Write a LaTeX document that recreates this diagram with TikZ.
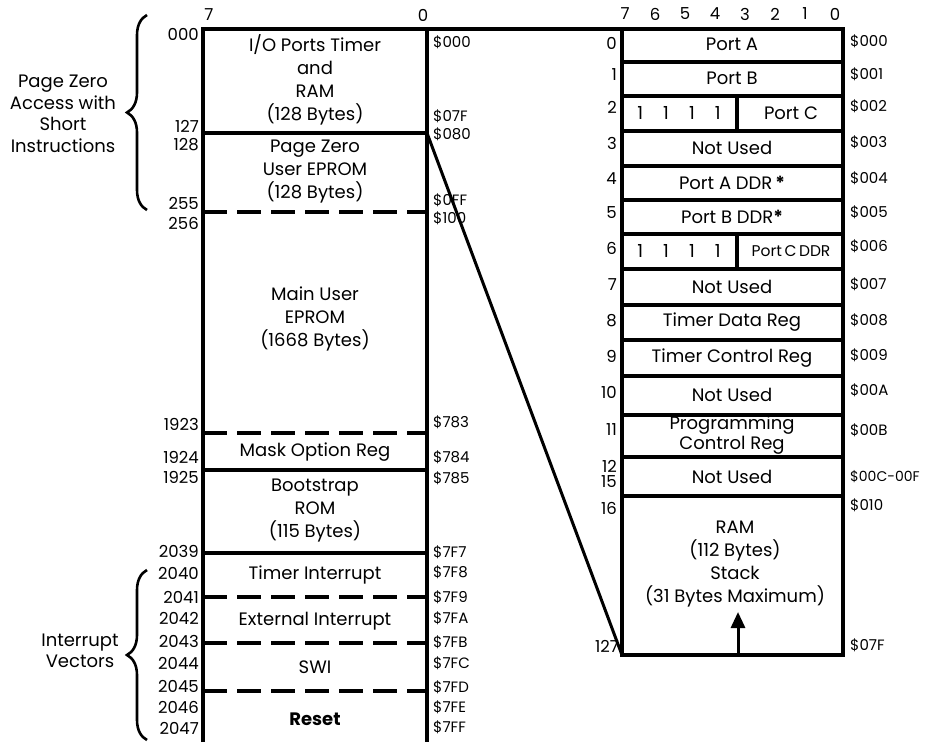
\documentclass[tikz,border=0pt]{standalone}
\usepackage{fontspec}
\setmainfont{Poppins}
\usetikzlibrary{decorations.pathreplacing,arrows.meta}
\begin{document}
\begin{tikzpicture}[x=1pt,y=-1pt,
  every node/.style={font=\fontsize{18}{23}\selectfont, inner sep=0pt},
  txt/.style={align=center},
  sidetxt/.style={align=center, font=\fontsize{18}{21.5}\selectfont},
  wall/.style={line width=3.6pt},
  rowsep/.style={line width=4.5pt},
  sepline/.style={line width=3.2pt},
  dashsep/.style={line width=3.6pt, dash pattern=on 24pt off 10pt},
  lnum/.style={anchor=east, font=\fontsize{16.5}{20}\selectfont},
  addr/.style={anchor=west, font=\fontsize{15}{18}\selectfont},
  bit/.style={anchor=center, font=\fontsize{16.5}{20}\selectfont},
  brc/.style={decorate, decoration={brace, amplitude=20pt}, line width=2.6pt},
  link/.style={line width=3pt},
  stackarrow/.style={line width=3pt, -{Triangle[length=16pt,width=14pt]}}
]
\useasboundingbox (0,0) rectangle (931,742);
\fill[white] (0,0) rectangle (931,742);

% ---------- left column ----------
\coordinate (LTL) at (203,29);
\coordinate (LTR) at (427,29);
\coordinate (LBL) at (203,742);
\coordinate (LBR) at (427,742);
\coordinate (LS1L) at (203,133); \coordinate (LS1R) at (427,133);
\coordinate (LS2L) at (203,212); \coordinate (LS2R) at (427,212);
\coordinate (LS3L) at (203,433); \coordinate (LS3R) at (427,433);
\coordinate (LS4L) at (203,470); \coordinate (LS4R) at (427,470);
\coordinate (LS5L) at (203,553); \coordinate (LS5R) at (427,553);
\coordinate (LS6L) at (203,597); \coordinate (LS6R) at (427,597);
\coordinate (LS7L) at (203,643); \coordinate (LS7R) at (427,643);
\coordinate (LS8L) at (203,691); \coordinate (LS8R) at (427,691);

% ---------- right frame ----------
\coordinate (RTL) at (622,29);
\coordinate (RBR) at (843,655);
\coordinate (RBL) at (622,655);

\draw[wall] (LBL) -- (LTL) -- (RTL);
\draw[wall] (LTR) -- (LBR);
\draw[sepline] (LS1L) -- (LS1R);
\draw[dashsep] (LS2L) -- (LS2R);
\draw[dashsep] (LS3L) -- (LS3R);
\draw[sepline] (LS4L) -- (LS4R);
\draw[sepline] (LS5L) -- (LS5R);
\draw[dashsep] (LS6L) -- (LS6R);
\draw[dashsep] (LS7L) -- (LS7R);
\draw[dashsep] (LS8L) -- (LS8R);

\draw[wall] (RTL) rectangle (RBR);
\foreach \yy in {62,96,131,166,200,234,269,305,340,376,415,457,496}
  \draw[rowsep] (622,\yy) -- (843,\yy);
\draw[rowsep] (737,96) -- (737,131);
\draw[rowsep] (737,234) -- (737,269);

% expansion line
\draw[link] (LS1R) -- (RBL);

% bit numbers
\node[bit] (lb7) at (209,15) {7};
\node[bit] (lb0) at (423,15) {0};
\foreach \b [count=\i from 0] in {7,6,5,4,3,2,1,0}
  \node[bit] (rb\b) at (625+30*\i,14) {\b};

% left column texts
\node[txt] (io) at (315,80) {I/O Ports Timer\\and\\RAM\\(128 Bytes)};
\node[txt] (pz) at (315,172) {Page Zero\\User EPROM\\(128 Bytes)};
\node[txt] (mainrom) at (315,319) {Main User\\EPROM\\(1668 Bytes)};
\node[txt] (mask) at (315,452) {Mask Option Reg};
\node[txt] (boot) at (315,511) {Bootstrap\\ROM\\(115 Bytes)};
\node[txt] (tint) at (315,575) {Timer Interrupt};
\node[txt] (eint) at (315,621) {External Interrupt};
\node[txt] (swi) at (315,667) {SWI};
\node[txt] (reset) at (315,719) {\bfseries Reset};

% left decimal addresses
\node[lnum] (d000) at (199,34) {000};
\node[lnum] (d127) at (199,126) {127};
\node[lnum] (d128) at (199,145) {128};
\node[lnum] (d255) at (199,203) {255};
\node[lnum] (d256) at (199,223) {256};
\node[lnum] (d1923) at (199,424) {1923};
\node[lnum] (d1924) at (199,457) {1924};
\node[lnum] (d1925) at (199,477) {1925};
\node[lnum] (d2039) at (199,551) {2039};
\node[lnum] (d2040) at (199,573) {2040};
\node[lnum] (d2041) at (199,597) {2041};
\node[lnum] (d2042) at (199,618) {2042};
\node[lnum] (d2043) at (199,641) {2043};
\node[lnum] (d2044) at (199,663) {2044};
\node[lnum] (d2045) at (199,686) {2045};
\node[lnum] (d2046) at (199,707) {2046};
\node[lnum] (d2047) at (199,728) {2047};

% left hex addresses
\node[addr] (h000) at (433,42) {\$000};
\node[addr] (h07F) at (433,116) {\$07F};
\node[addr] (h080) at (433,134) {\$080};
\node[addr] (h0FF) at (433,200) {\$0FF};
\node[addr] (h100) at (433,218) {\$100};
\node[addr] (h783) at (433,422) {\$783};
\node[addr] (h784) at (433,457) {\$784};
\node[addr] (h785) at (433,478) {\$785};
\node[addr] (h7F7) at (433,552) {\$7F7};
\node[addr] (h7F8) at (433,572) {\$7F8};
\node[addr] (h7F9) at (433,597) {\$7F9};
\node[addr] (h7FA) at (433,618) {\$7FA};
\node[addr] (h7FB) at (433,642) {\$7FB};
\node[addr] (h7FC) at (433,663) {\$7FC};
\node[addr] (h7FD) at (433,687) {\$7FD};
\node[addr] (h7FE) at (433,707) {\$7FE};
\node[addr] (h7FF) at (433,727) {\$7FF};

% braces and side labels
\coordinate (B1a) at (147,210); \coordinate (B1b) at (147,15);
\coordinate (B2a) at (147,740); \coordinate (B2b) at (147,570);
\draw[brc] (B1a) -- (B1b);
\draw[brc] (B2a) -- (B2b);
\node[sidetxt] (pzlabel) at (63,114) {Page Zero\\Access with\\Short\\Instructions};
\node[sidetxt] (ivlabel) at (80,651) {Interrupt\\Vectors};

% right frame texts
\node[txt] (pa) at (732,44) {Port A};
\node[txt] (pb) at (732,78) {Port B};
\node[txt] (ones2) at (679,113) {1\hspace{20pt}1\hspace{20pt}1\hspace{20pt}1};
\node[txt] (pc) at (791,113) {Port C};
\node[txt] (nu3) at (732,148) {Not Used};
\node[txt] (padr) at (732,183) {Port A DDR\,{\bfseries *}};
\node[txt] (pbdr) at (732,217) {Port B DDR{\bfseries *}};
\node[txt] (ones6) at (679,251) {1\hspace{20pt}1\hspace{20pt}1\hspace{20pt}1};
\node[txt] (pcdr) at (791,251) {\fontsize{15.5}{18}\selectfont Port\,C\,DDR};
\node[txt] (nu7) at (732,287) {Not Used};
\node[txt] (tdr) at (732,322) {Timer Data Reg};
\node[txt] (tcr) at (732,358) {Timer Control Reg};
\node[txt] (nu10) at (732,395) {Not Used};
\node[txt, font=\fontsize{18}{17}\selectfont] (pcr) at (732,435) {Programming\\Control Reg};
\node[txt] (nu12) at (732,477) {Not Used};
\node[txt] (ram) at (735,564) {RAM\\(112 Bytes)\\Stack\\(31 Bytes Maximum)};

% stack arrow
\coordinate (SA0) at (738,653);
\coordinate (SA1) at (738,612);
\draw[stackarrow] (SA0) -- (SA1);

% row numbers
\node[lnum] (r0) at (617,43) {0};
\node[lnum] (r1) at (617,75) {1};
\node[lnum] (r2) at (617,107) {2};
\node[lnum] (r3) at (617,143) {3};
\node[lnum] (r4) at (617,179) {4};
\node[lnum] (r5) at (617,213) {5};
\node[lnum] (r6) at (617,248) {6};
\node[lnum] (r7) at (617,285) {7};
\node[lnum] (r8) at (617,321) {8};
\node[lnum] (r9) at (617,356) {9};
\node[lnum] (r10) at (617,392) {10};
\node[lnum] (r11) at (617,430) {11};
\node[lnum] (r12) at (617,466) {12};
\node[lnum] (r15) at (617,482) {15};
\node[lnum] (r16) at (617,508) {16};
\node[lnum] (r127) at (619,646) {127};

% right hex addresses
\node[addr] (a000) at (850,41) {\$000};
\node[addr] (a001) at (850,74) {\$001};
\node[addr] (a002) at (850,106) {\$002};
\node[addr] (a003) at (850,142) {\$003};
\node[addr] (a004) at (850,178) {\$004};
\node[addr] (a005) at (850,212) {\$005};
\node[addr] (a006) at (850,246) {\$006};
\node[addr] (a007) at (850,284) {\$007};
\node[addr] (a008) at (850,320) {\$008};
\node[addr] (a009) at (850,355) {\$009};
\node[addr] (a00A) at (850,390) {\$00A};
\node[addr] (a00B) at (850,430) {\$00B};
\node[addr] (a00C) at (850,477) {\fontsize{14}{17}\selectfont\$00C-00F};
\node[addr] (a010) at (850,505) {\$010};
\node[addr] (a07F) at (850,645) {\$07F};
\end{tikzpicture}
\end{document}
